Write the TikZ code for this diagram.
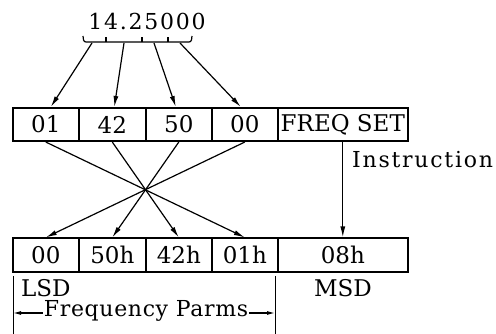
\documentclass[tikz,border=0pt]{standalone}
\usepackage{fontspec}
\setmainfont{DejaVu Serif}
\newfontfamily\spacedfont[LetterSpace=8]{DejaVu Serif}
\newfontfamily\lspacedfont[LetterSpace=3]{DejaVu Serif}
\usetikzlibrary{arrows.meta}
\begin{document}
\begin{tikzpicture}[x=1pt,y=-1pt,
  every node/.style={font=\fontsize{23}{27}\selectfont},
  cell/.style={draw,line width=1.6pt,inner sep=0pt,minimum height=33.5pt,anchor=west},
  conn/.style={line width=1.2pt},
  arr/.style={conn,-{Latex[length=11pt,width=5pt]}},
  sarr/.style={conn,-{Latex[length=8pt,width=4pt]}},
  spaced/.style={font=\fontsize{22}{26}\spacedfont}]
\useasboundingbox (0,0) rectangle (496,334);
% number
\node[spaced] (num) at (147,21) {14.25000};
% bracket
\draw[line width=1.2pt] (83,36) to[out=-90,in=180] (86,42) -- (189,42) to[out=0,in=-90] (192,36);
\foreach \x in {106,142,168} \draw[line width=2.5pt] (\x,42) -- (\x,37);
\coordinate (g1) at (92,43);
\coordinate (g2) at (124,43);
\coordinate (g3) at (154,43);
\coordinate (g4) at (180,43);
% top row
\node[cell,minimum width=66pt] (t1) at (12,124.5) {01};
\node[cell,minimum width=67pt] (t2) at (78,124.5) {42};
\node[cell,minimum width=66pt] (t3) at (145,124.5) {50};
\node[cell,minimum width=66pt] (t4) at (211,124.5) {00};
\node[cell,minimum width=130pt] (tf) at (277,124.5) {FREQ SET};
% bottom row
\node[cell,minimum width=66pt] (b1) at (12,255) {00};
\node[cell,minimum width=67pt] (b2) at (78,255) {50h};
\node[cell,minimum width=66pt] (b3) at (145,255) {42h};
\node[cell,minimum width=66pt] (b4) at (211,255) {01h};
\node[cell,minimum width=130pt] (bm) at (277,255) {08h};
% digit arrows
\draw[arr] (g1) -- ([xshift=5pt]t1.north);
\draw[arr] (g2) -- ([xshift=2pt]t2.north);
\draw[arr] (g3) -- ([xshift=-3pt]t3.north);
\draw[arr] (g4) -- ([xshift=-4pt]t4.north);
% crossing
\draw[arr] (t1.south) -- (b4.north);
\draw[arr] (t2.south) -- (b3.north);
\draw[arr] (t3.south) -- (b2.north);
\draw[arr] (t4.south) -- (b1.north);
% instruction
\draw[arr] (tf.south) -- (bm.north);
\node[spaced,anchor=west,inner sep=0pt] (ins) at (352,160) {Instruction};
% labels
\node[anchor=west,inner sep=0pt] (lsd) at (21,288) {LSD};
\node (msd) at (343,288) {MSD};
\coordinate (v1a) at (13,276);
\coordinate (v1b) at (13,334);
\coordinate (v2a) at (275,276);
\coordinate (v2b) at (275,334);
\draw[line width=0.8pt] (v1a) -- (v1b);
\draw[line width=0.8pt] (v2a) -- (v2b);
\node[inner sep=1pt,font=\fontsize{22}{26}\lspacedfont] (fp) at (146,311) {Frequency Parms};
\coordinate (fl) at (13,313);
\coordinate (fr) at (275,313);
\draw[sarr] (fp.west |- fl) -- (fl);
\draw[sarr] (fp.east |- fr) -- (fr);
\end{tikzpicture}
\end{document}
